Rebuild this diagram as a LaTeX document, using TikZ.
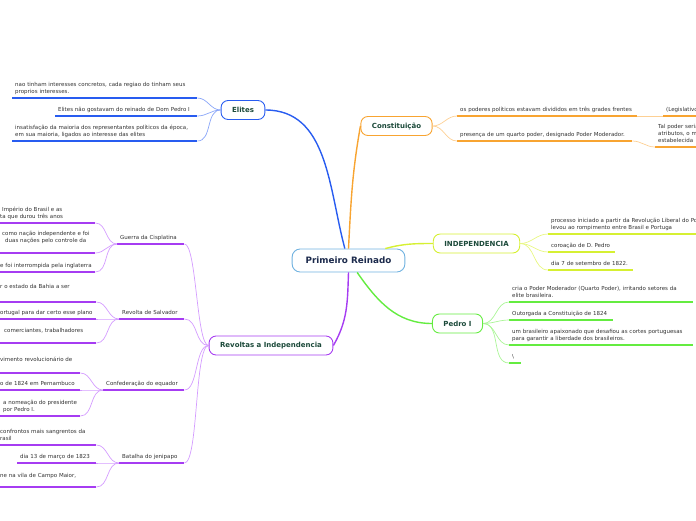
\documentclass[tikz,border=0pt]{standalone}
\usepackage{fontspec}
\setmainfont{DejaVu Sans}
\definecolor{rootblue}{RGB}{112,178,224}
\definecolor{rootink}{RGB}{28,42,76}
\definecolor{topicink}{RGB}{28,74,58}
\definecolor{leafink}{RGB}{50,50,50}
\definecolor{elblue}{RGB}{40,92,240}
\definecolor{elblueL}{RGB}{138,166,248}
\definecolor{coorange}{RGB}{248,164,49}
\definecolor{coorangeL}{RGB}{253,208,148}
\definecolor{inyellow}{RGB}{214,240,50}
\definecolor{inyellowL}{RGB}{232,247,130}
\definecolor{pegreen}{RGB}{100,236,64}
\definecolor{pegreenL}{RGB}{170,245,150}
\definecolor{repurple}{RGB}{166,60,242}
\definecolor{repurpleL}{RGB}{212,156,255}
\tikzset{
  root/.style={rectangle, rounded corners=8pt, draw=rootblue, fill=white,
    line width=0.9pt, text=rootink, font=\fontsize{8.8}{10}\selectfont\bfseries,
    minimum height=23pt, inner xsep=13.5pt},
  topic/.style={rectangle, rounded corners=7pt, draw=#1, fill=white,
    line width=0.9pt, text=topicink, font=\fontsize{7}{8}\selectfont\bfseries,
    minimum height=19pt, inner xsep=11pt},
  leaf/.style={anchor=south west, align=left, inner xsep=3pt, inner ysep=2.5pt,
    text=leafink, font=\fontsize{5.5}{6.7}\selectfont,
    execute at end node=\strut,
    append after command={(\tikzlastnode.south west)
      edge[draw=#1, line width=1.6pt] (\tikzlastnode.south east)}},
  branch/.style={draw=#1, line width=1.4pt},
  twig/.style={draw=#1, line width=0.7pt}
}
\begin{document}
\begin{tikzpicture}[x=1pt, y=-1pt]
  \path[use as bounding box, clip] (0,0) rectangle (696,520);

  % central topic and main branches
  \node[root] (reinado) at (348.5,260.5) {Primeiro Reinado};
  \node[topic=elblue] (elites) at (243,110) {Elites};
  \node[topic=coorange] (consti) at (396.5,126) {Constituição};
  \node[topic=inyellow] (indep) at (476.5,243.5) {INDEPENDENCIA};
  \node[topic=pegreen] (pedro) at (457.5,323.5) {Pedro I};
  \node[topic=repurple] (revoltas) at (271,345.5) {Revoltas a Independencia};

  % Elites
  \node[leaf=elblue, text width=179pt] (eli1) at (12,98) {nao tinham interesses concretos, cada regiao do tinham seus\\proprios interesses.};
  \node[leaf=elblue, text width=136pt] (eli2) at (55,116) {Elites não gostavam do reinado de Dom Pedro I};
  \node[leaf=elblue, text width=179pt] (eli3) at (12,141) {insatisfação da maioria dos representantes políticos da época,\\em sua maioria, ligados ao interesse das elites};

  % Constituicao
  \node[leaf=coorange, text width=174pt] (con1) at (457,116) {os poderes políticos estavam divididos em três grades frentes};
  \node[leaf=coorange, text width=169pt] (con2) at (457,141) {presença de um quarto poder, designado Poder Moderador.};
  \node[leaf=coorange, text width=120pt] (con3) at (663,116) {(Legislativo, Executivo e Judiciário)};
  \node[leaf=coorange, text width=120pt] (con4) at (655,147) {Tal poder seria\\atributos, o monarca\\estabelecida};

  % Independencia
  \node[leaf=inyellow, text width=200pt] (ind1) at (548,234) {processo iniciado a partir da Revolução Liberal do Porto\\levou ao rompimento entre Brasil e Portuga};
  \node[leaf=inyellow, text width=61pt] (ind2) at (548,252) {coroação de D. Pedro};
  \node[leaf=inyellow, text width=79pt] (ind3) at (548,270) {dia 7 de setembro de 1822.};

  % Pedro I
  \node[leaf=pegreen, text width=178pt] (ped1) at (509,302) {cria o Poder Moderador (Quarto Poder), irritando setores da\\elite brasileira.};
  \node[leaf=pegreen, text width=98pt] (ped2) at (509,320) {Outorgada a Constituição de 1824};
  \node[leaf=pegreen, text width=178pt] (ped3) at (509,345) {um brasileiro apaixonado que desafiou as cortes portuguesas\\para garantir a liberdade dos brasileiros.};
  \node[leaf=pegreen, text width=6pt] (ped4) at (509,363) {\textbackslash};

  % Revoltas: sub-topics
  \node[leaf=repurple, text width=61pt] (cis) at (117,244) {Guerra da Cisplatina};
  \node[leaf=repurple, text width=59pt] (sal) at (119,319) {Revolta de Salvador};
  \node[leaf=repurple, text width=75pt] (equ) at (103,390) {Confederação do equador};
  \node[leaf=repurple, text width=59pt] (jen) at (119,463) {Batalha do jenipapo};

  % Guerra da Cisplatina
  \node[leaf=repurple, text width=92pt] (cis1) at (-3,223) {\hspace*{2pt}Império do Brasil e as\\ta que durou três anos};
  \node[leaf=repurple, text width=92pt, inner ysep=8.5pt] (cis2) at (-3,253) {\hspace*{2pt}como nação independente e foi\\\hspace*{5pt}duas nações pelo controle da};
  \node[leaf=repurple, text width=92pt] (cis3) at (-3,272) {e foi interrompida pela inglaterra};

  % Revolta de Salvador
  \node[leaf=repurple, text width=93pt, inner ysep=11.5pt] (sal1) at (-3,302) {r o estado da Bahia a ser};
  \node[leaf=repurple, text width=93pt] (sal2) at (-3,319) {\leavevmode\llap{P}ortugal para dar certo esse plano};
  \node[leaf=repurple, text width=93pt, inner ysep=8.5pt] (sal3) at (-3,343) {\hspace*{4pt}comerciantes, trabalhadores};

  % Confederacao do equador
  \node[leaf=repurple, text width=77pt, inner ysep=9.5pt] (equ1) at (-3,373) {\leavevmode\llap{mo}vimento revolucionário de};
  \node[leaf=repurple, text width=77pt] (equ2) at (-3,390) {o de 1824 em Pernambuco};
  \node[leaf=repurple, text width=77pt] (equ3) at (-3,416) {\hspace*{3pt}a nomeação do presidente\\\hspace*{3pt}por Pedro I.};

  % Batalha do jenipapo
  \node[leaf=repurple, text width=93pt] (jen1) at (-3,445) {confrontos mais sangrentos da\\\leavevmode\llap{B}rasil};
  \node[leaf=repurple, text width=73pt] (jen2) at (17,463) {dia 13 de março de 1823};
  \node[leaf=repurple, text width=93pt, inner ysep=7.5pt] (jen3) at (-3,487) {ne na vila de Campo Maior,};

  % main branches
  \draw[branch=elblue] (reinado.107) to[out=105, in=0] (elites.east);
  \draw[branch=coorange] (reinado.north) to[out=87, in=260] (consti.west);
  \draw[branch=inyellow] (reinado.18) to[out=15, in=180] (indep.west);
  \draw[branch=pegreen] (reinado.-54) to[out=-55, in=180] (pedro.west);
  \draw[branch=repurple] (reinado.south) to[out=-92, in=60] (revoltas.east);

  % twigs
  \draw[twig=elblueL] (eli1.south east) to[out=0, in=180] (elites.west);
  \draw[twig=elblueL] (eli2.south east) to[out=0, in=180] (elites.west);
  \draw[twig=elblueL] (eli3.south east) to[out=0, in=180] (elites.west);

  \draw[twig=coorangeL] (consti.east) to[out=0, in=180] (con1.south west);
  \draw[twig=coorangeL] (consti.east) to[out=0, in=180] (con2.south west);
  \draw[twig=coorangeL] (con1.south east) -- (con3.south west);
  \draw[twig=coorangeL] (con2.south east) to[out=0, in=180] (con4.south west);

  \draw[twig=inyellowL] (indep.east) to[out=0, in=180] (ind1.south west);
  \draw[twig=inyellowL] (indep.east) to[out=0, in=180] (ind2.south west);
  \draw[twig=inyellowL] (indep.east) to[out=0, in=180] (ind3.south west);

  \draw[twig=pegreenL] (pedro.east) to[out=0, in=180] (ped1.south west);
  \draw[twig=pegreenL] (pedro.east) to[out=0, in=180] (ped2.south west);
  \draw[twig=pegreenL] (pedro.east) to[out=0, in=180] (ped3.south west);
  \draw[twig=pegreenL] (pedro.east) to[out=0, in=180] (ped4.south west);

  \draw[twig=repurpleL] (cis.south east) to[out=0, in=180, looseness=0.3] (revoltas.west);
  \draw[twig=repurpleL] (sal.south east) to[out=0, in=180] (revoltas.west);
  \draw[twig=repurpleL] (equ.south east) to[out=0, in=180, looseness=0.7] (revoltas.west);
  \draw[twig=repurpleL] (jen.south east) to[out=0, in=180, looseness=0.3] (revoltas.west);

  \draw[twig=repurpleL] (cis1.south east) to[out=0, in=180] (cis.south west);
  \draw[twig=repurpleL] (cis2.south east) to[out=0, in=180] (cis.south west);
  \draw[twig=repurpleL] (cis3.south east) to[out=0, in=180] (cis.south west);
  \draw[twig=repurpleL] (sal1.south east) to[out=0, in=180] (sal.south west);
  \draw[twig=repurpleL] (sal2.south east) to[out=0, in=180] (sal.south west);
  \draw[twig=repurpleL] (sal3.south east) to[out=0, in=180] (sal.south west);
  \draw[twig=repurpleL] (equ1.south east) to[out=0, in=180] (equ.south west);
  \draw[twig=repurpleL] (equ2.south east) to[out=0, in=180] (equ.south west);
  \draw[twig=repurpleL] (equ3.south east) to[out=0, in=180] (equ.south west);
  \draw[twig=repurpleL] (jen1.south east) to[out=0, in=180] (jen.south west);
  \draw[twig=repurpleL] (jen2.south east) to[out=0, in=180] (jen.south west);
  \draw[twig=repurpleL] (jen3.south east) to[out=0, in=180] (jen.south west);
\end{tikzpicture}
\end{document}
